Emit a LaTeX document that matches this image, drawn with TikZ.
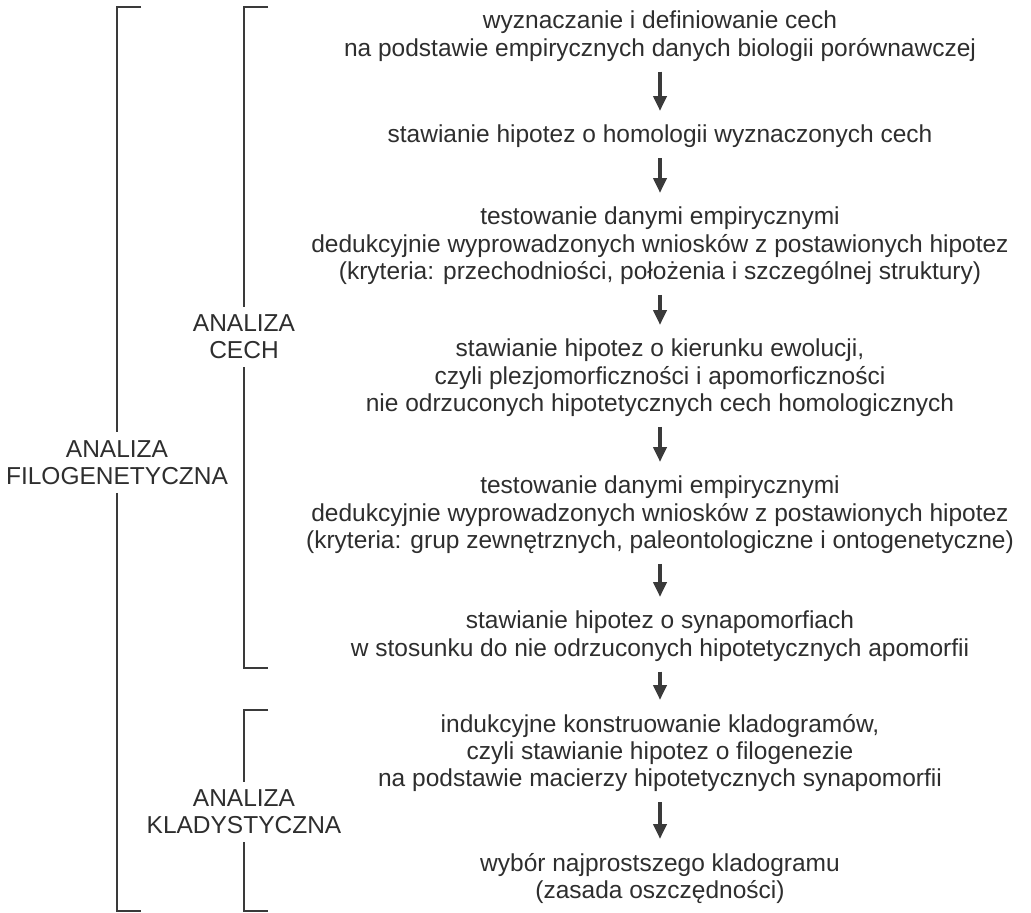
\documentclass[tikz,border=0pt]{standalone}
\usepackage{fontspec}
\setmainfont{Liberation Sans}
\usetikzlibrary{arrows.meta}
\definecolor{txtgray}{HTML}{2E2E2E}
\definecolor{linegray}{HTML}{3A3A3A}
\begin{document}
\begin{tikzpicture}[x=1pt,y=-1pt,
  txt/.style={font=\fontsize{24.5}{27.3}\selectfont, align=center, text=txtgray, inner sep=0pt, anchor=north},
  lab/.style={font=\fontsize{24.5}{27.3}\selectfont, align=center, text=txtgray, inner xsep=0pt, inner ysep=8pt, anchor=north},
  arr/.style={draw=linegray, line width=4pt, -{Triangle[length=15pt,width=13pt]}, shorten <=10pt, shorten >=14pt},
  brk/.style={draw=linegray, line width=1.7pt}]
\path[use as bounding box, fill=white] (0,0) rectangle (1031,913);

\node[txt] (b1) at (660,11) {wyznaczanie i definiowanie cech\\na podstawie empirycznych danych biologii porównawczej};
\node[txt] (b2) at (660,125) {stawianie hipotez o homologii wyznaczonych cech};
\node[txt] (b3) at (660,207) {testowanie danymi empirycznymi\\dedukcyjnie wyprowadzonych wniosków z postawionych hipotez\\(kryteria: przechodniości, położenia i szczególnej struktury)};
\node[txt] (b4) at (660,339) {stawianie hipotez o kierunku ewolucji,\\czyli plezjomorficzności i apomorficzności\\nie odrzuconych hipotetycznych cech homologicznych};
\node[txt] (b5) at (660,476) {testowanie danymi empirycznymi\\dedukcyjnie wyprowadzonych wniosków z postawionych hipotez\\(kryteria: grup zewnętrznych, paleontologiczne i ontogenetyczne)};
\node[txt] (b6) at (660,611) {stawianie hipotez o synapomorfiach\\w stosunku do nie odrzuconych hipotetycznych apomorfii};
\node[txt] (b7) at (660,714) {indukcyjne konstruowanie kladogramów,\\czyli stawianie hipotez o filogenezie\\na podstawie macierzy hipotetycznych synapomorfii};
\node[txt] (b8) at (660,853) {wybór najprostszego kladogramu\\(zasada oszczędności)};

\draw[arr] (b1) -- (b2);
\draw[arr] (b2) -- (b3);
\draw[arr] (b3) -- (b4);
\draw[arr] (b4) -- (b5);
\draw[arr] (b5) -- (b6);
\draw[arr] (b6) -- (b7);
\draw[arr] (b7) -- (b8);

% labels
\node[lab] (lfil) at (117,432) {ANALIZA\\FILOGENETYCZNA};
\node[lab] (lcech) at (244,306.5) {ANALIZA\\CECH};
\node[lab] (lklad) at (244,781.5) {ANALIZA\\KLADYSTYCZNA};

% bracket corners
\coordinate (fT) at (141,7);
\coordinate (fB) at (141,911);
\coordinate (cT) at (268,7);
\coordinate (cB) at (268,668);
\coordinate (kT) at (268,710);
\coordinate (kB) at (268,911);

\draw[brk] (fT) -- (117,7) -- (lfil.north);
\draw[brk] (lfil.south) -- (117,911) -- (fB);
\draw[brk] (cT) -- (244,7) -- (lcech.north);
\draw[brk] (lcech.south) -- (244,668) -- (cB);
\draw[brk] (kT) -- (244,710) -- (lklad.north);
\draw[brk] (lklad.south) -- (244,911) -- (kB);
\end{tikzpicture}
\end{document}
